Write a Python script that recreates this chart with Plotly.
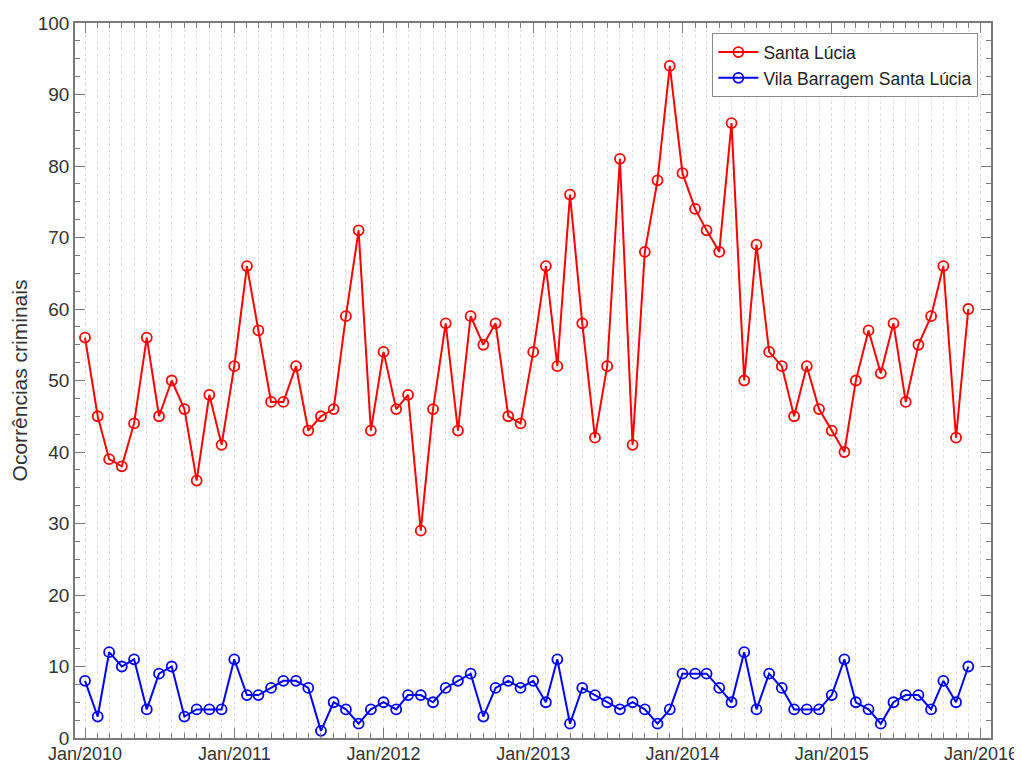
import pandas as pd
import plotly.graph_objects as go

# Monthly dates Jan/2010 .. Dec/2015
months = pd.date_range("2010-01-01", periods=72, freq="MS")

santa_lucia = [
    56, 45, 39, 38, 44, 56, 45, 50, 46, 36, 48, 41,   # 2010
    52, 66, 57, 47, 47, 52, 43, 45, 46, 59, 71, 43,   # 2011
    54, 46, 48, 29, 46, 58, 43, 59, 55, 58, 45, 44,   # 2012
    54, 66, 52, 76, 58, 42, 52, 81, 41, 68, 78, 94,   # 2013
    79, 74, 71, 68, 86, 50, 69, 54, 52, 45, 52, 46,   # 2014
    43, 40, 50, 57, 51, 58, 47, 55, 59, 66, 42, 60,   # 2015
]
vila_barragem = [
    8, 3, 12, 10, 11, 4, 9, 10, 3, 4, 4, 4,           # 2010
    11, 6, 6, 7, 8, 8, 7, 1, 5, 4, 2, 4,              # 2011
    5, 4, 6, 6, 5, 7, 8, 9, 3, 7, 8, 7,               # 2012
    8, 5, 11, 2, 7, 6, 5, 4, 5, 4, 2, 4,              # 2013
    9, 9, 9, 7, 5, 12, 4, 9, 7, 4, 4, 4,              # 2014
    6, 11, 5, 4, 2, 5, 6, 6, 4, 8, 5, 10,             # 2015
]
series_names = ["Santa Lúcia", "Vila Barragem Santa Lúcia"]
y_label = "Ocorrências criminais"

FONT = "Liberation Sans, Arial, sans-serif"
TXT = "#333333"
AX = "#7a7a7a"

fig = go.Figure()
fig.add_trace(go.Scatter(
    x=months, y=santa_lucia, name=series_names[0], mode="lines+markers",
    line=dict(color="#ff0000", width=2),
    marker=dict(symbol="circle-open", size=10, color="#ff0000", line=dict(width=1.8)),
))
fig.add_trace(go.Scatter(
    x=months, y=vila_barragem, name=series_names[1], mode="lines+markers",
    line=dict(color="#0000ff", width=2),
    marker=dict(symbol="circle-open", size=10, color="#0000ff", line=dict(width=1.8)),
))

# the page body adds an 8px offset, margins compensate for it
fig.update_layout(
    width=1022, height=764,
    margin=dict(l=67, r=39, t=15, b=34, autoexpand=False),
    paper_bgcolor="white", plot_bgcolor="white",
    font=dict(family=FONT, size=19, color=TXT),
    showlegend=True,
    legend=dict(
        x=0.986, y=0.986, xanchor="right", yanchor="top",
        bgcolor="white", bordercolor="#8a8a8a", borderwidth=1.2,
        font=dict(family=FONT, size=17.5, color="#222222"),
        tracegroupgap=0, itemwidth=40,
    ),
)

fig.update_xaxes(
    type="date", automargin=False,
    range=["2009-12-07 12:00", "2016-01-25 12:00"],
    tick0="2010-01-01", dtick="M12", tickformat="%b/%Y",
    ticks="inside", ticklen=10, tickwidth=1, tickcolor=AX,
    showline=True, linecolor=AX, linewidth=1.5, mirror="ticks",
    showgrid=True, gridcolor="#d9d9d9", gridwidth=1, griddash="dot",
    tickfont=dict(family=FONT, size=18, color=TXT),
    ticklabelstandoff=-1,
    minor=dict(dtick="M1", tick0="2010-01-01", ticks="inside", ticklen=5,
               tickcolor=AX, showgrid=True, gridcolor="#e0e0e0",
               griddash="dot", gridwidth=1),
    zeroline=False,
)
fig.update_yaxes(
    automargin=False,
    range=[0, 100], dtick=10, tick0=0,
    ticks="inside", ticklen=10, tickwidth=1, tickcolor=AX,
    showline=True, linecolor=AX, linewidth=1.5, mirror="ticks",
    showgrid=False, zeroline=False,
    tickfont=dict(family=FONT, size=19, color=TXT),
    title=dict(text=y_label, font=dict(family=FONT, size=21, color=TXT), standoff=8),
    minor=dict(dtick=2.5, ticks="inside", ticklen=5, tickcolor=AX, showgrid=False),
)

fig.write_html("out.html")
